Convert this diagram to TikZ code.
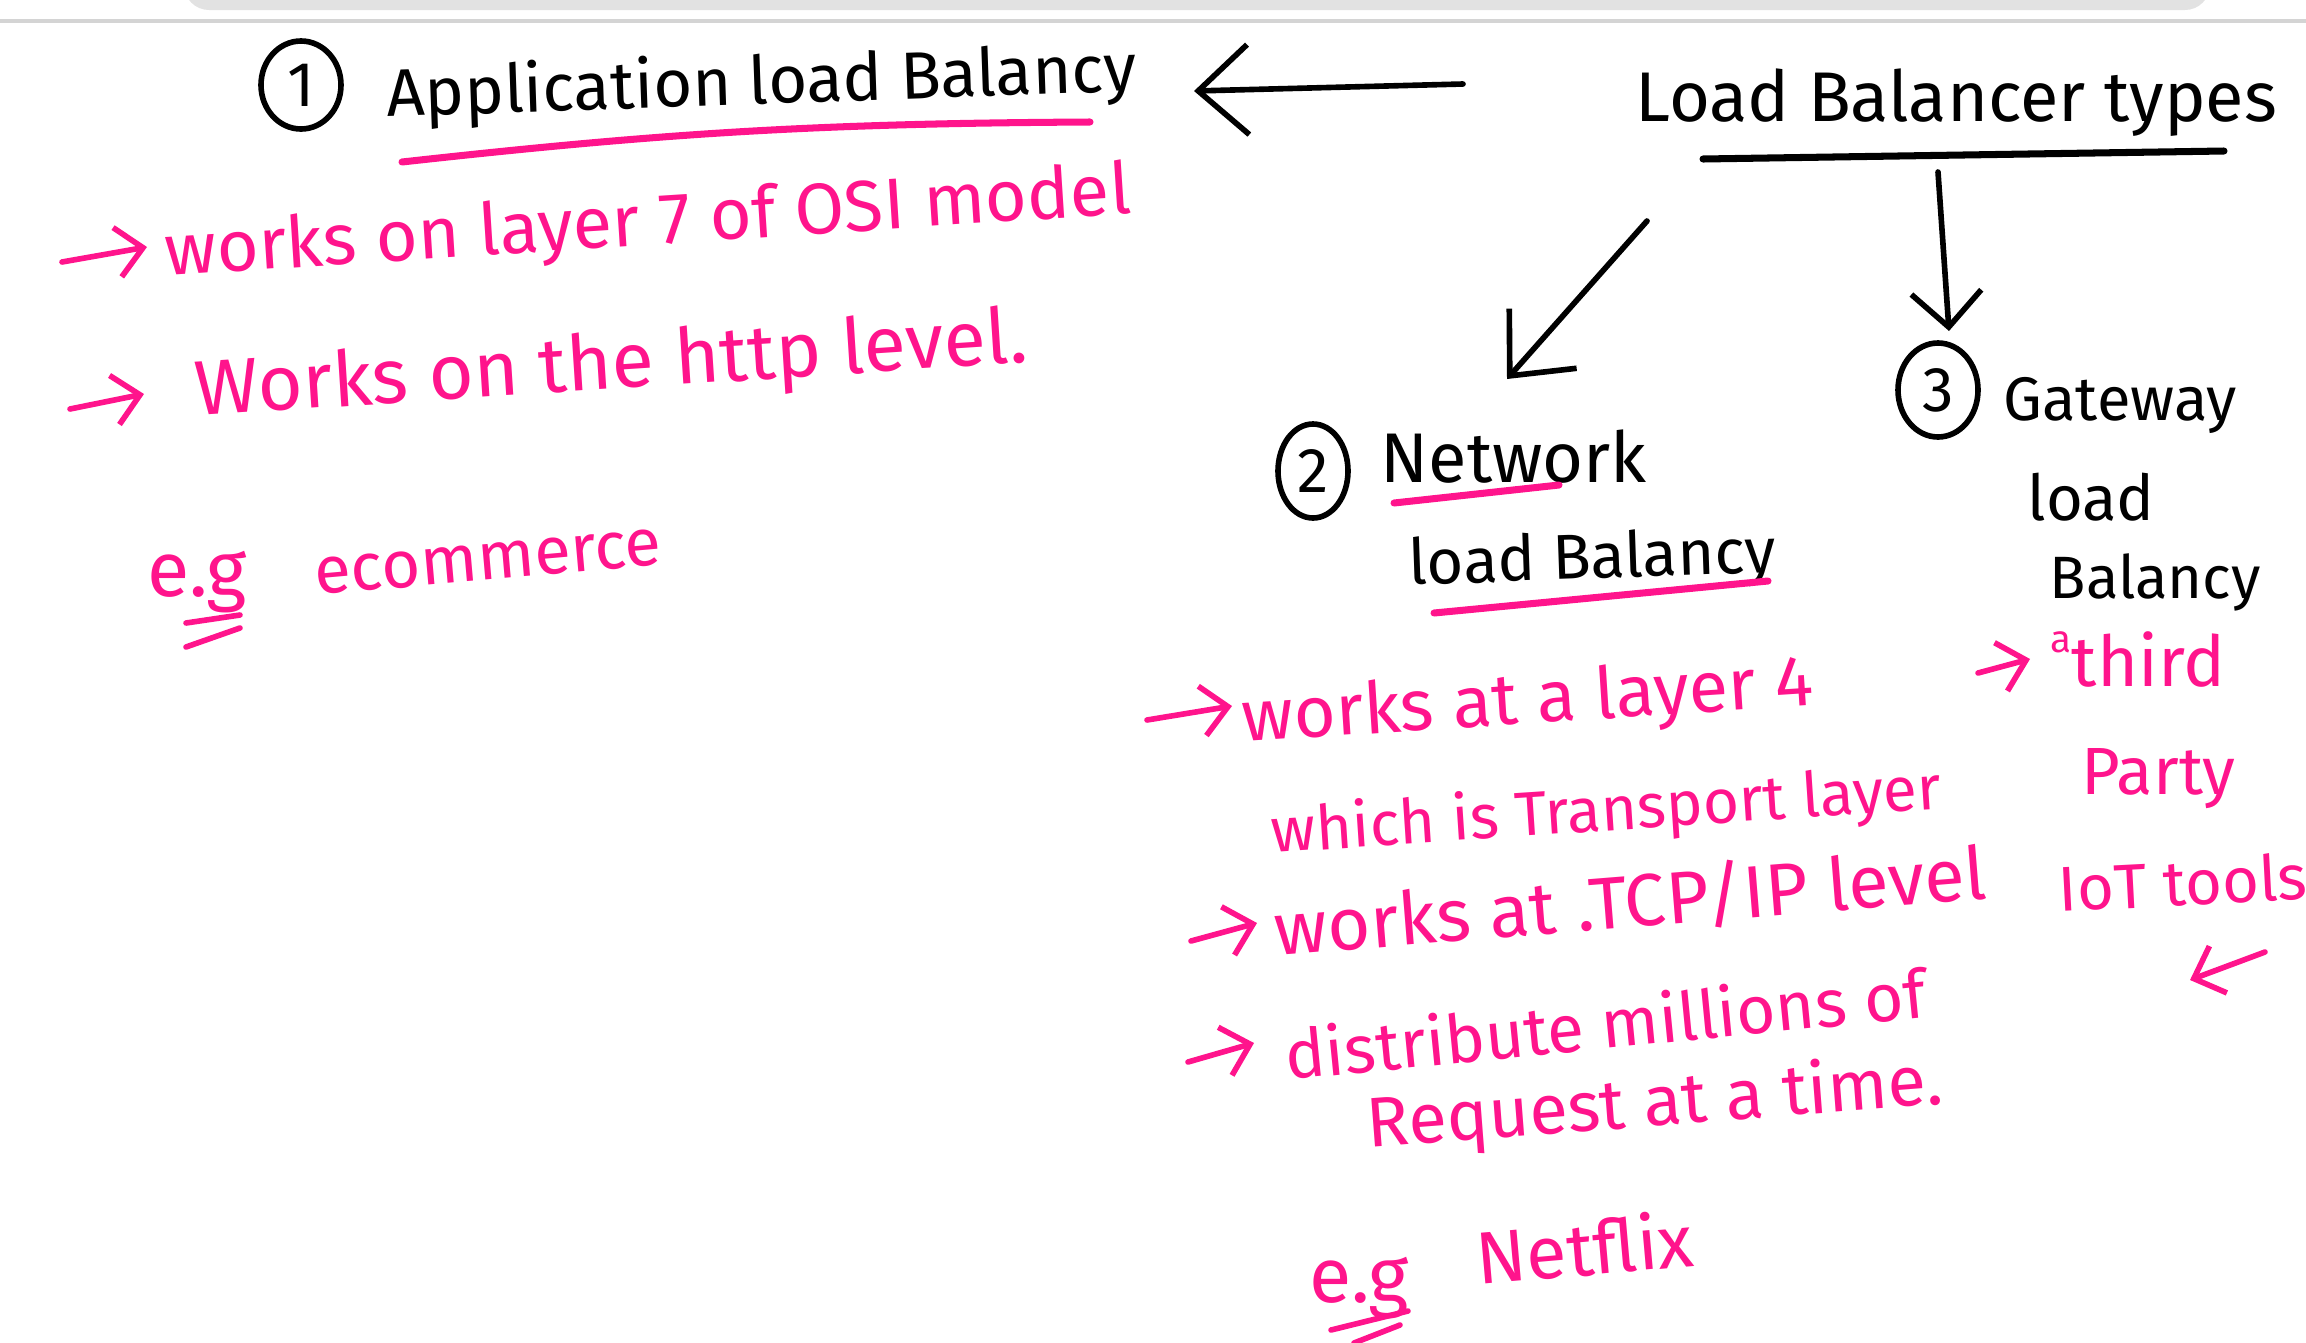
\documentclass[tikz,border=0pt]{standalone}
\usepackage{fontspec}
\setmainfont{Fira Sans}
\usepackage{tikz}
\usetikzlibrary{arrows.meta,calc,positioning,shapes.geometric}
\definecolor{inkpink}{RGB}{255,20,140}
\definecolor{barGray}{RGB}{226,226,226}
\definecolor{lineGray}{RGB}{212,212,212}

\begin{document}
\begin{tikzpicture}[
  ink/.style={line width=1.6pt,line cap=round,line join=round},
  pinkink/.style={ink,inkpink},
  bigtip/.style={-{Straight Barb[length=5mm,width=9mm]}},
  smalltip/.style={-{Straight Barb[length=2.6mm,width=5mm]}},
  hand/.style={inner sep=0pt,anchor=base west},
  pinktext/.style={hand,text=inkpink},
  numcirc/.style={draw,ellipse,ink,inner sep=0pt,font=\fontsize{18}{20}\selectfont}]
\useasboundingbox (0,0) rectangle (23.06,-13.42);
% page frame on top
\fill[barGray,rounded corners=0.25cm] (1.84,0.5) rectangle (22.10,-0.10);
\draw[lineGray,line width=1pt] (0,-0.21) -- (23.06,-0.21);

% 1 application
\node[numcirc,minimum width=0.80cm,minimum height=0.88cm] (one) at (3.01,-0.85) {1};
\node[hand,rotate=2,font=\fontsize{19}{22}\selectfont] (appTitle) at (3.87,-1.17) {Application load Balancy};
\draw[pinkink,line width=2pt] (4.02,-1.62) to[bend left=3] (10.90,-1.22);

% root
\node[hand,font=\fontsize{20}{24}\selectfont] (lbTypes) at (16.35,-1.21) {Load Balancer types};
\draw[ink,line width=2pt] (17.03,-1.59) -- (22.24,-1.51);
\coordinate (leftTail) at (14.63,-0.84);
\coordinate (leftHead) at (11.94,-0.91);
\coordinate (diagTail) at (16.47,-2.21);
\coordinate (diagHead) at (15.07,-3.79);
\coordinate (downTail) at (19.38,-1.72);
\coordinate (downHead) at (19.49,-3.31);
\draw[ink,bigtip] (leftTail) -- (leftHead);
\draw[ink,bigtip] (diagTail) -- (diagHead);
\draw[ink,-{Straight Barb[length=3.5mm,width=7mm]}] (downTail) -- (downHead);

% 2 network
\node[numcirc,minimum width=0.70cm,minimum height=0.94cm] (two) at (13.13,-4.71) {2};
\node[hand,font=\fontsize{20}{24}\selectfont] (netTitle) at (13.80,-4.82) {Network};
\draw[pinkink,line width=2pt] (13.94,-5.03) -- (15.59,-4.85);
\node[hand,rotate=2,font=\fontsize{18}{22}\selectfont] (netLB) at (14.09,-5.85) {load Balancy};
\draw[pinkink,line width=2pt] (14.34,-6.13) -- (17.68,-5.81);

% 3 gateway
\node[numcirc,minimum width=0.80cm,minimum height=0.94cm] (three) at (19.38,-3.90) {3};
\node[hand,font=\fontsize{17.5}{20}\selectfont] (gwTitle) at (20.03,-4.20) {Gateway};
\node[hand,font=\fontsize{18}{20}\selectfont] (gwLoad) at (20.27,-5.20) {load};
\node[hand,font=\fontsize{17}{20}\selectfont] (gwBal) at (20.49,-5.98) {Balancy};

% application notes
\node[pinktext,rotate=3.7,font=\fontsize{20.5}{24}\selectfont] (osiLine) at (1.66,-2.76) {works on layer 7 of OSI model};
\node[pinktext,rotate=3.7,font=\fontsize{22}{26}\selectfont] (httpLine) at (1.96,-4.16) {Works on the http level.};
\node[pinktext,font=\fontsize{22}{26}\selectfont] (egOne) at (1.47,-5.96) {e.g};
\node[pinktext,rotate=5,font=\fontsize{19}{22}\selectfont] (ecomm) at (3.16,-5.95) {ecommerce};
\draw[pinkink,smalltip] ($(osiLine.base west)+(-1.04,0.14)$) -- ($(osiLine.base west)+(-0.19,0.29)$);
\draw[pinkink,smalltip] ($(httpLine.base west)+(-1.26,0.07)$) -- ($(httpLine.base west)+(-0.52,0.22)$);
\draw[pinkink] (1.86,-6.23) -- (2.40,-6.15);
\draw[pinkink] (1.86,-6.47) -- (2.40,-6.28);

% network notes
\node[pinktext,rotate=3.7,font=\fontsize{20.5}{24}\selectfont] (layerFour) at (12.43,-7.42) {works at a layer 4};
\node[pinktext,rotate=3.8,font=\fontsize{17.7}{22}\selectfont] (transport) at (12.72,-8.53) {which is Transport layer};
\node[pinktext,rotate=4.6,font=\fontsize{21}{24}\selectfont] (tcpip) at (12.76,-9.56) {works at .TCP/IP level};
\node[pinktext,rotate=5.6,font=\fontsize{19.2}{24}\selectfont] (millions) at (12.87,-10.80) {distribute millions of};
\node[pinktext,rotate=4.4,font=\fontsize{20}{24}\selectfont] (request) at (13.68,-11.48) {Request at a time.};
\node[pinktext,font=\fontsize{22}{26}\selectfont] (egTwo) at (13.09,-13.02) {e.g};
\node[pinktext,rotate=5,font=\fontsize{21}{24}\selectfont] (netflix) at (14.78,-12.85) {Netflix};
\draw[pinkink,smalltip] ($(layerFour.base west)+(-0.96,0.22)$) -- ($(layerFour.base west)+(-0.11,0.36)$);
\draw[pinkink,smalltip] ($(tcpip.base west)+(-0.85,0.15)$) -- ($(tcpip.base west)+(-0.19,0.33)$);
\draw[pinkink,smalltip] ($(millions.base west)+(-0.99,0.18)$) -- ($(millions.base west)+(-0.33,0.37)$);
\draw[pinkink] (13.31,-13.30) -- (14.08,-13.11);
\draw[pinkink] (13.54,-13.43) -- (14.00,-13.25);

% gateway notes
\node[pinktext,font=\fontsize{20}{24}\selectfont] (third) at (20.50,-6.86) {\raisebox{0.9ex}{\fontsize{11}{12}\selectfont a}third};
\node[pinktext,font=\fontsize{19}{22}\selectfont] (party) at (20.81,-7.94) {Party};
\node[pinktext,rotate=3,font=\fontsize{18}{22}\selectfont] (iot) at (20.59,-9.12) {IoT tools};
\draw[pinkink,smalltip] ($(third.base west)+(-0.72,0.13)$) -- ($(third.base west)+(-0.20,0.27)$);
\coordinate (moreTail) at (22.65,-9.52);
\coordinate (moreHead) at (21.90,-9.80);
\draw[pinkink,smalltip] (moreTail) -- (moreHead);
\end{tikzpicture}
\end{document}
